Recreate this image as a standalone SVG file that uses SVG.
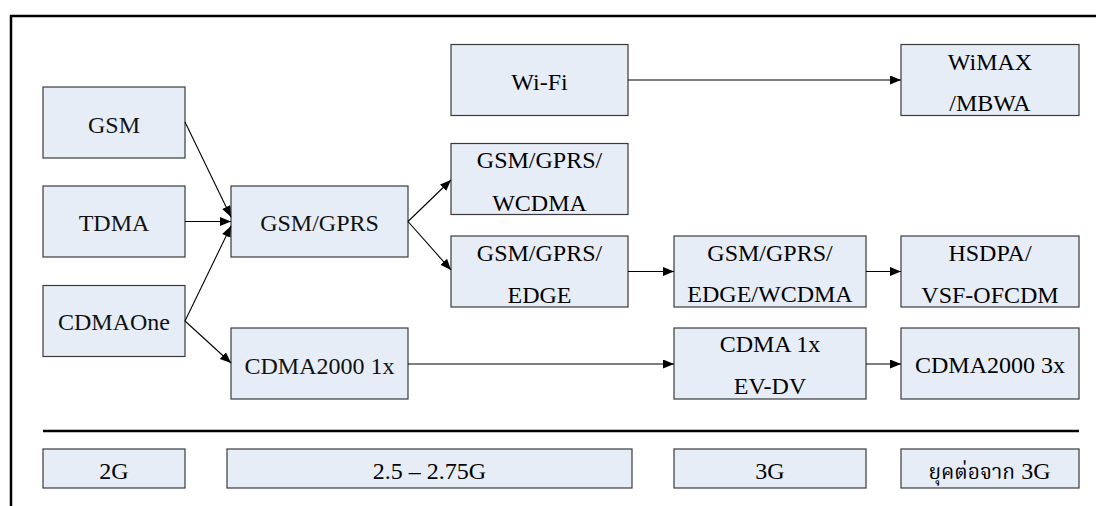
<svg xmlns="http://www.w3.org/2000/svg" width="1096" height="506" viewBox="0 0 1096 506">
<style>
.box{fill:#E7EDF7;stroke:#3a3a3a;stroke-width:1.2}
.c{stroke:#000;stroke-width:1.1;fill:none;marker-end:url(#ah)}
.frame{stroke:#000;stroke-width:2.5;fill:none}
</style>
<defs>
<marker id="ah" markerUnits="userSpaceOnUse" markerWidth="12" markerHeight="10" refX="11" refY="4.5" orient="auto">
<path d="M0,0 L11,4.5 L0,9 z" fill="#000"/>
</marker>
</defs>
<rect width="1096" height="506" fill="#fff"/>
<path class="frame" d="M11,506 L11,16 L1096,16"/>
<line x1="43" y1="431" x2="1079" y2="431" stroke="#000" stroke-width="2.5"/>

<g id="gsm"><rect class="box" x="43" y="87" width="142" height="71"/><text x="114" y="132.5" style="font-family:'Liberation Serif';font-size:24px;text-anchor:middle;fill:#111">GSM</text></g>
<g id="tdma"><rect class="box" x="43" y="186" width="142" height="71"/><text x="114" y="231" style="font-family:'Liberation Serif';font-size:24px;text-anchor:middle;fill:#111">TDMA</text></g>
<g id="cdmaone"><rect class="box" x="43" y="285.5" width="142" height="71"/><text x="114" y="330" style="font-family:'Liberation Serif';font-size:24px;text-anchor:middle;fill:#111">CDMAOne</text></g>
<g id="gsmgprs"><rect class="box" x="231" y="186" width="177" height="71"/><text x="319.5" y="231" font-family="Liberation Serif" font-size="24" text-anchor="middle" fill="#111">GSM/GPRS</text></g>
<g id="cdma2000-1x"><rect class="box" x="231" y="328" width="177" height="71"/><text x="319.5" y="373.5" font-family="Liberation Serif" font-size="24" text-anchor="middle" fill="#111">CDMA2000 1x</text></g>
<g id="wifi"><rect class="box" x="451" y="44.5" width="177" height="71"/><text x="539.5" y="89.5" font-family="Liberation Serif, serif" font-size="24" text-anchor="middle">Wi-Fi</text></g>
<g id="gsm-gprs-wcdma"><rect class="box" x="451" y="143.5" width="177" height="71"/><text x="539.5" y="168" font-family="Liberation Serif, serif" font-size="24" text-anchor="middle">GSM/GPRS/</text><text x="539.5" y="211" font-family="Liberation Serif, serif" font-size="24" text-anchor="middle">WCDMA</text></g>
<g id="gsm-gprs-edge"><rect class="box" x="451" y="236" width="177" height="71"/><text x="539.5" y="261" font-family="Liberation Serif, serif" font-size="24" text-anchor="middle">GSM/GPRS/</text><text x="539.5" y="303" font-family="Liberation Serif, serif" font-size="24" text-anchor="middle">EDGE</text></g>
<g id="gsm-gprs-edge-wcdma"><rect class="box" x="674" y="236" width="192" height="71"/><text x="770" y="261" font-family="Times New Roman" font-size="24" text-anchor="middle">GSM/GPRS/</text><text x="770" y="302" font-family="Times New Roman" font-size="24" text-anchor="middle">EDGE/WCDMA</text></g>
<g id="cdma1x-evdv"><rect class="box" x="674" y="328" width="192" height="71"/><text x="770" y="352" font-family="Times New Roman" font-size="24" text-anchor="middle">CDMA 1x</text><text x="770" y="394" font-family="Times New Roman" font-size="24" text-anchor="middle">EV-DV</text></g>
<g id="wimax"><rect x="901" y="44.5" width="178" height="71" fill="#E7EDF7" stroke="#3a3a3a" stroke-width="1.2"/><text x="990" y="70" font-family="Liberation Serif" font-size="24" text-anchor="middle">WiMAX</text><text x="990" y="111" font-family="Liberation Serif" font-size="24" text-anchor="middle">/MBWA</text></g>
<g id="hsdpa"><rect x="901" y="236" width="178" height="71" fill="#E7EDF7" stroke="#3a3a3a" stroke-width="1.2"/><text x="990" y="261" font-family="Liberation Serif" font-size="24" text-anchor="middle">HSDPA/</text><text x="990" y="303" font-family="Liberation Serif" font-size="24" text-anchor="middle">VSF-OFCDM</text></g>
<g id="cdma2000-3x"><rect x="901" y="328" width="178" height="71" fill="#E7EDF7" stroke="#3a3a3a" stroke-width="1.2"/><text x="990" y="372.5" font-family="Liberation Serif" font-size="24" text-anchor="middle">CDMA2000 3x</text></g>

<g id="era-2g"><rect class="box" x="43" y="449" width="142" height="39"/><text x="114" y="478.5" font-family="Liberation Serif" font-size="24" text-anchor="middle">2G</text></g>
<g id="era-25g"><rect class="box" x="227" y="449" width="405" height="39"/><text x="429.5" y="478.5" font-family="Liberation Serif" font-size="24" text-anchor="middle">2.5 – 2.75G</text></g>
<g id="era-3g"><rect class="box" x="674" y="449" width="192" height="39"/><text x="770" y="478.5" font-family="Liberation Serif" font-size="24" text-anchor="middle">3G</text></g>
<g id="era-beyond"><rect class="box" x="901" y="449" width="178" height="39"/><text x="989.5" y="479" font-family="Liberation Serif" font-size="24" text-anchor="middle"><tspan font-family="Noto Serif Thai" font-size="21">ยุคต่อจาก</tspan> 3G</text></g>

<g id="connectors">
<path class="c" d="M185,122 L231,217"/>
<path class="c" d="M185,221.5 L231,221.5"/>
<path class="c" d="M185,321 L231,226"/>
<path class="c" d="M185,321 L231,363"/>
<path class="c" d="M408,221.5 L451,180"/>
<path class="c" d="M408,221.5 L451,270"/>
<path class="c" d="M628,271.5 L674,271.5"/>
<path class="c" d="M866,271.5 L901,271.5"/>
<path class="c" d="M408,364 L674,364"/>
<path class="c" d="M866,364 L901,364"/>
<path class="c" d="M628,80 L901,80"/>
</g>
</svg>
